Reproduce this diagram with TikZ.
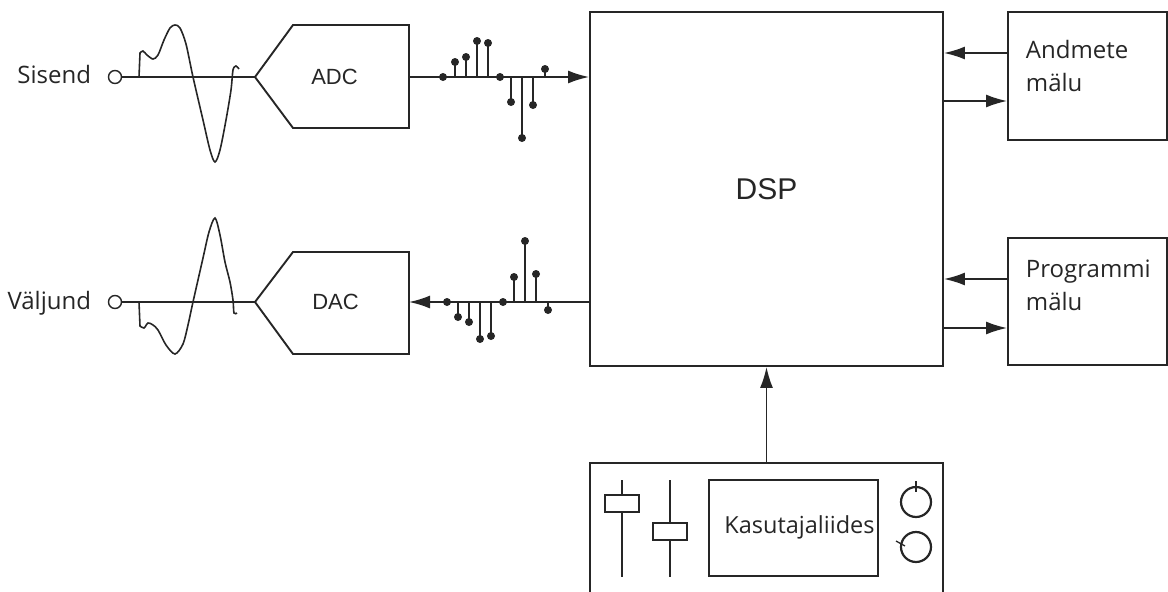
\documentclass[tikz,border=0pt]{standalone}
\usepackage{fontspec}
\setmainfont{Open Sans}
\newfontfamily\blockfont{Liberation Sans}
\usetikzlibrary{arrows.meta}
\begin{document}
\begin{tikzpicture}[x=1pt, y=-1pt, line width=1.9pt, color=black!85,
  every node/.style={font=\fontsize{24}{33}\selectfont, inner sep=0pt},
  box/.style={draw, rectangle},
  port/.style={draw, circle, minimum size=13pt, line width=1.4pt},
  tip/.style={-{Latex[length=21pt,width=13pt]}},
  wave/.style={line width=1.6pt},
  blk/.style={font=\blockfont\fontsize{22}{26}\selectfont}]
  \useasboundingbox (0,0) rectangle (1168,592);
  \node[box, minimum width=353pt, minimum height=354pt, font=\blockfont\fontsize{30}{36}\selectfont] (dsp) at (766.5,189) {DSP};
  \node[box, minimum width=159pt, minimum height=128pt] (dmem) at (1087.5,76) {};
  \node[box, minimum width=159pt, minimum height=127pt] (pmem) at (1087.5,301.5) {};
  \node[anchor=north west, align=left] (dmemtxt) at (1025,39) {Andmete\\mälu};
  \node[anchor=north west, align=left] (pmemtxt) at (1025,259) {Programmi\\mälu};
  \node[box, minimum width=353pt, minimum height=160pt] (ui) at (766.5,543) {};
  \node[box, minimum width=169pt, minimum height=96pt] (screen) at (793.5,528) {};
  \node[anchor=base, font=\fontsize{23.5}{28}\selectfont] (uitxt) at (799.5,533) {Kasutajaliides};
  \node[port] (in) at (115,77) {};
  \node[port] (out) at (115,302) {};
  \node[anchor=base east] (intxt) at (92,83) {Sisend};
  \node[anchor=base east] (outtxt) at (92,309) {Väljund};
  \coordinate (adctip) at (255,77);
  \coordinate (adcout) at (409,77);
  \coordinate (dactip) at (255,302);
  \coordinate (dacin) at (409,302);
  \draw (adctip) -- (293,25) -- (409,25) -- (409,128) -- (293,128) -- cycle;
  \draw (dactip) -- (293,252) -- (409,252) -- (409,354) -- (293,354) -- cycle;
  \node[blk] (adc) at (334.5,77) {ADC};
  \node[blk] (dac) at (335.5,302) {DAC};
  \draw[line width=1.6pt] (in) -- (adctip);
  \draw[line width=1.6pt] (out) -- (dactip);
  \draw[wave] (139,77) -- plot[smooth, tension=0.5] coordinates {(140,53) (143,51) (147,55) (153,59) (158,55) (164,40) (170,28) (175,25) (180,28) (186,44) (193,77) (203,120) (210,150) (215,162) (220,150) (226,120) (231,90) (233,70) (236,66) (239,69)};
  \draw[wave] (139,302) -- plot[smooth, tension=0.5] coordinates {(140,326) (144,328) (148,323) (153,325) (158,330) (166,345) (175,354) (183,344) (188,325) (193,302) (203,258) (209,232) (215,218) (220,235) (225,262) (230,282) (233,300) (234,313) (237,313)};
  \draw[tip, line width=1.7pt] (adcout) -- (dsp.west |- adcout);
  \draw[tip, line width=1.7pt] (dsp.west |- dacin) -- (dacin);
  \foreach \x/\y in {443/77, 455/62, 466/57, 477/41, 488/43, 500/77, 511/102, 522/138, 533/105, 545/69}
    { \draw[line width=1.5pt] (\x,77) -- (\x,\y); \fill (\x,\y) circle (4pt); }
  \foreach \x/\y in {447/302, 458/317, 469/322, 480/339, 491/336, 503/302, 514/277, 525/241, 536/274, 548/310}
    { \draw[line width=1.5pt] (\x,302) -- (\x,\y); \fill (\x,\y) circle (4pt); }
  \coordinate (d1) at ([yshift=23pt]dmem.west);
  \coordinate (d2) at ([yshift=-25pt]dmem.west);
  \coordinate (p1) at ([yshift=22.5pt]pmem.west);
  \coordinate (p2) at ([yshift=-26.5pt]pmem.west);
  \draw[tip, line width=1.6pt] (d1) -- (d1 -| dsp.east);
  \draw[tip, line width=1.6pt] (d2 -| dsp.east) -- (d2);
  \draw[tip, line width=1.6pt] (p1) -- (p1 -| dsp.east);
  \draw[tip, line width=1.6pt] (p2 -| dsp.east) -- (p2);
  \draw[tip, line width=1.6pt] (ui.north) -- (dsp.south);
  \draw[line width=1.6pt] (622,480) -- (622,577);
  \draw[line width=1.6pt, fill=white] (605,495) rectangle (639,512);
  \draw[line width=1.6pt] (670,480) -- (670,577);
  \draw[line width=1.6pt, fill=white] (653,523) rectangle (687,540);
  \draw[line width=2.2pt] (916,502) circle (15pt);
  \draw[line width=1.3pt] (916,481) -- (916,492);
  \draw[line width=2.2pt] (916,547) circle (15pt);
  \draw[line width=1.3pt] (896,541) -- (905,546);
\end{tikzpicture}
\end{document}
